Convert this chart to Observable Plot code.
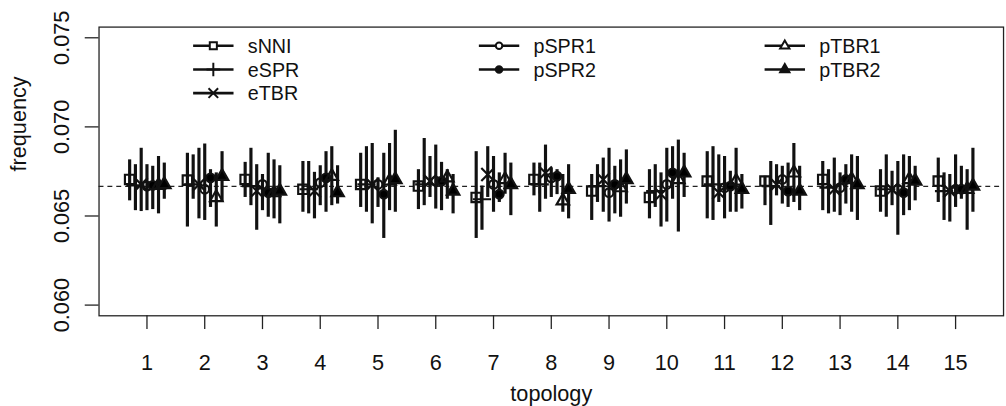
<!DOCTYPE html>
<html><head><meta charset="utf-8">
<script src="https://cdn.jsdelivr.net/npm/d3@7"></script>
<script src="https://cdn.jsdelivr.net/npm/@observablehq/plot@0.6"></script>
<style>
html,body{margin:0;padding:0;background:#fff;overflow:hidden;width:1006px;height:406px}
#chart{position:relative;width:1006px;height:406px;overflow:hidden}
</style></head><body><div id="chart"></div>
<script>
// ---- data ----
const topologies = [1,2,3,4,5,6,7,8,9,10,11,12,13,14,15];
const seriesNames = ["sNNI","eSPR","eTBR","pSPR1","pSPR2","pTBR1","pTBR2"];
const yTicks = [0.060, 0.065, 0.070, 0.075];
const expectedFreq = 1/15;

const sNNI_mean = [0.06705,0.06701,0.06705,0.06650,0.06677,0.06668,0.06604,0.06705,0.06640,0.06604,0.06696,0.06696,0.06705,0.06640,0.06696];
const sNNI_lo   = [0.06585,0.06438,0.06604,0.06521,0.06548,0.06536,0.06374,0.06613,0.06475,0.06484,0.06484,0.06558,0.06530,0.06521,0.06576];
const sNNI_hi   = [0.06815,0.06852,0.06801,0.06806,0.06852,0.06760,0.06861,0.06797,0.06733,0.06760,0.06861,0.06723,0.06806,0.06760,0.06825];

const eSPR_mean = [0.06672,0.06677,0.06668,0.06650,0.06677,0.06677,0.06594,0.06677,0.06668,0.06640,0.06677,0.06668,0.06659,0.06650,0.06640];
const eSPR_lo   = [0.06530,0.06594,0.06558,0.06512,0.06521,0.06558,0.06420,0.06521,0.06576,0.06548,0.06475,0.06447,0.06512,0.06493,0.06475];
const eSPR_hi   = [0.06788,0.06843,0.06880,0.06806,0.06889,0.06935,0.06668,0.06797,0.06788,0.06788,0.06889,0.06806,0.06760,0.06843,0.06742];

const eTBR_mean = [0.06677,0.06677,0.06640,0.06640,0.06677,0.06696,0.06733,0.06742,0.06705,0.06622,0.06631,0.06677,0.06650,0.06650,0.06640];
const eTBR_lo   = [0.06525,0.06484,0.06420,0.06484,0.06456,0.06604,0.06604,0.06594,0.06521,0.06438,0.06576,0.06613,0.06521,0.06558,0.06466];
const eTBR_hi   = [0.06880,0.06880,0.06788,0.06745,0.06907,0.06834,0.06889,0.06898,0.06825,0.06742,0.06843,0.06788,0.06825,0.06751,0.06733];

const pSPR1_mean = [0.06668,0.06650,0.06677,0.06687,0.06677,0.06696,0.06677,0.06714,0.06631,0.06677,0.06659,0.06705,0.06659,0.06650,0.06650];
const pSPR1_lo   = [0.06530,0.06475,0.06530,0.06558,0.06548,0.06539,0.06521,0.06604,0.06466,0.06466,0.06484,0.06567,0.06502,0.06392,0.06548];
const pSPR1_hi   = [0.06788,0.06904,0.06733,0.06782,0.06714,0.06898,0.06834,0.06769,0.06880,0.06880,0.06834,0.06779,0.06742,0.06806,0.06843];

const pSPR2_mean = [0.06672,0.06714,0.06631,0.06714,0.06622,0.06696,0.06622,0.06723,0.06677,0.06742,0.06668,0.06640,0.06705,0.06631,0.06650];
const pSPR2_lo   = [0.06536,0.06548,0.06493,0.06521,0.06374,0.06530,0.06576,0.06620,0.06512,0.06594,0.06521,0.06548,0.06567,0.06502,0.06594];
const pSPR2_hi   = [0.06779,0.06760,0.06852,0.06861,0.06852,0.06801,0.06742,0.06760,0.06779,0.06889,0.06751,0.06797,0.06788,0.06843,0.06779];

const pTBR1_mean = [0.06672,0.06604,0.06631,0.06723,0.06696,0.06714,0.06705,0.06585,0.06659,0.06705,0.06696,0.06742,0.06705,0.06705,0.06650];
const pTBR1_lo   = [0.06512,0.06438,0.06484,0.06558,0.06530,0.06594,0.06622,0.06521,0.06493,0.06410,0.06521,0.06576,0.06521,0.06530,0.06420];
const pTBR1_hi   = [0.06834,0.06742,0.06815,0.06889,0.06907,0.06760,0.06852,0.06733,0.06815,0.06926,0.06880,0.06907,0.06843,0.06834,0.06760];

const pTBR2_mean = [0.06677,0.06723,0.06640,0.06631,0.06705,0.06640,0.06677,0.06650,0.06705,0.06742,0.06650,0.06640,0.06677,0.06696,0.06668];
const pTBR2_lo   = [0.06594,0.06576,0.06456,0.06567,0.06521,0.06512,0.06502,0.06484,0.06567,0.06604,0.06539,0.06530,0.06475,0.06585,0.06521];
const pTBR2_hi   = [0.06797,0.06861,0.06782,0.06782,0.06981,0.06733,0.06797,0.06788,0.06871,0.06852,0.06733,0.06779,0.06834,0.06779,0.06880];

// ---- assembly ----
const seriesValues = {
  sNNI:  [sNNI_mean,  sNNI_lo,  sNNI_hi],
  eSPR:  [eSPR_mean,  eSPR_lo,  eSPR_hi],
  eTBR:  [eTBR_mean,  eTBR_lo,  eTBR_hi],
  pSPR1: [pSPR1_mean, pSPR1_lo, pSPR1_hi],
  pSPR2: [pSPR2_mean, pSPR2_lo, pSPR2_hi],
  pTBR1: [pTBR1_mean, pTBR1_lo, pTBR1_hi],
  pTBR2: [pTBR2_mean, pTBR2_lo, pTBR2_hi]
};
const symbolStyle = {
  sNNI:  {symbol: "square",   fill: "none",  r: 5.4},
  eSPR:  {symbol: "plus",     fill: "none",  r: 6},
  eTBR:  {symbol: "times",    fill: "none",  r: 6},
  pSPR1: {symbol: "circle",   fill: "none",  r: 4.4},
  pSPR2: {symbol: "circle",   fill: "black", r: 4.4},
  pTBR1: {symbol: "triangle", fill: "none",  r: 4.7},
  pTBR2: {symbol: "triangle", fill: "black", r: 4.7}
};
const dodge = 0.1;
const rows = [];
seriesNames.forEach((name, si) => {
  const [m, lo, hi] = seriesValues[name];
  topologies.forEach((t, ti) => {
    rows.push({series: name, pos: t + (si - 3) * dodge, mean: m[ti], lo: lo[ti], hi: hi[ti]});
  });
});

const FONT = "'Liberation Sans', Arial, Helvetica, sans-serif";
const FS = 22;
const LFS = 20;

const hline = {draw(ctx, size) { const r = Math.sqrt(size / Math.PI); ctx.moveTo(-r, 0); ctx.lineTo(r, 0); }};

// legend marks (layout only)
const legendCols = [[0,1,2],[3,4],[5,6]];
const legendMarks = [];
legendCols.forEach((col, ci) => {
  col.forEach((si, ri) => {
    const name = seriesNames[si];
    const st = symbolStyle[name];
    const cx = 116 + ci * 290;
    const cy = 19 + ri * 24;
    legendMarks.push(Plot.dot([name], {frameAnchor: "top-left", dx: cx, dy: cy, symbol: hline, r: 20.5, stroke: "#111", strokeWidth: 2.6}));
    legendMarks.push(Plot.dot([name], {frameAnchor: "top-left", dx: cx, dy: cy, symbol: st.symbol, r: st.r * 0.75, fill: st.fill === "none" ? "white" : "#111", stroke: "#111", strokeWidth: 2}));
    legendMarks.push(Plot.text([name], {frameAnchor: "top-left", dx: cx + 35, dy: cy + 1, text: d => d, textAnchor: "start", lineAnchor: "middle", fontSize: LFS, fill: "#111"}));
  });
});

const dotMarks = seriesNames.map(name => {
  const st = symbolStyle[name];
  return Plot.dot(rows.filter(d => d.series === name), {x: "pos", y: "mean", symbol: st.symbol, r: st.r, fill: st.fill, stroke: "#111", strokeWidth: 2.2});
});

const chart = Plot.plot({
  width: 1021, height: 406,
  marginLeft: 100, marginRight: 3, marginTop: 27, marginBottom: 86,
  x: {domain: [0.17, 15.83], axis: null},
  y: {domain: [0.0594, 0.0756], axis: null},
  style: {fontFamily: FONT, fontSize: FS + "px", color: "#111", background: "#fff", overflow: "visible"},
  marks: [
    Plot.ruleY([expectedFreq], {strokeDasharray: "5,4", strokeWidth: 1.3, stroke: "#222"}),
    Plot.ruleX(rows, {x: "pos", y1: "lo", y2: "hi", strokeWidth: 3.2, stroke: "#111"}),
    ...dotMarks,
    Plot.frame({stroke: "#222", strokeWidth: 1.3}),
    Plot.axisX({ticks: topologies, tickSize: 14, tickPadding: 25, tickFormat: "d", fontSize: FS, stroke: "#222", strokeWidth: 1.3, label: null}),
    Plot.axisY({ticks: yTicks, tickSize: 14, tickFormat: () => "", stroke: "#222", strokeWidth: 1.3, label: null}),
    Plot.text(yTicks, {y: d => d, frameAnchor: "left", dx: -38, rotate: -90, text: d => d.toFixed(3), textAnchor: "middle", lineAnchor: "middle", fontSize: FS}),
    Plot.text(["topology"], {frameAnchor: "bottom", dy: 79, text: d => d, lineAnchor: "middle", fontSize: FS}),
    Plot.text(["frequency"], {frameAnchor: "left", dx: -81, rotate: -90, text: d => d, lineAnchor: "middle", fontSize: FS}),
    ...legendMarks
  ]
});
document.getElementById("chart").appendChild(chart);
</script>
</body></html>
